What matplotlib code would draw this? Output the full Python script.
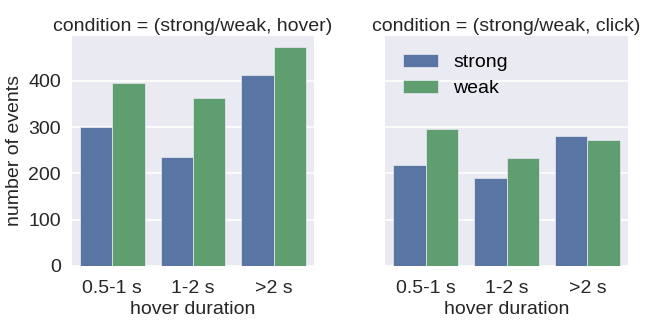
import numpy as np
import matplotlib
matplotlib.use("Agg")
import matplotlib.pyplot as plt

# --- DATA ---
durations = ["0.5-1 s", "1-2 s", ">2 s"]
hues = ["strong", "weak"]
hover_strong = [301, 235, 412]
hover_weak = [396, 362, 473]
click_strong = [218, 189, 280]
click_weak = [296, 234, 273]
titles = ["condition = (strong/weak, hover)", "condition = (strong/weak, click)"]
yticks = [0, 100, 200, 300, 400]

colors = ["#5975a4", "#5f9e6e"]
txt = "#262626"

plt.rcParams["font.family"] = ["Liberation Sans", "DejaVu Sans"]
plt.rcParams["font.size"] = 14

fig = plt.figure(figsize=(6.54, 3.25), dpi=100)
ax1 = fig.add_axes([0.110, 0.182, 0.370, 0.707])
ax2 = fig.add_axes([0.589, 0.182, 0.371, 0.707], sharey=ax1)

x = np.arange(len(durations))
w = 0.4
panels = [(ax1, hover_strong, hover_weak), (ax2, click_strong, click_weak)]
for i, (ax, s, wk) in enumerate(panels):
    ax.set_facecolor("#EAEAF2")
    for sp in ax.spines.values():
        sp.set_visible(False)
    ax.grid(axis="y", color="white", linewidth=1.2)
    ax.set_axisbelow(True)
    ax.bar(x - w / 2, s, w, color=colors[0], edgecolor="#dfe3ea", linewidth=0.6, label=hues[0])
    ax.bar(x + w / 2, wk, w, color=colors[1], edgecolor="#dfe3ea", linewidth=0.6, label=hues[1])
    ax.set_xticks(x)
    ax.set_xticklabels(durations)
    ax.set_xlim(-0.5, 2.5)
    ax.tick_params(axis="x", length=0, pad=10, labelsize=14, colors=txt)
    ax.tick_params(axis="y", length=0, pad=8, labelsize=14, colors=txt)
    ax.set_xlabel("hover duration", fontsize=14, color=txt, labelpad=3)
    ax.set_title(titles[i], fontsize=14, color=txt, pad=4)

ax1.set_ylim(0, 497)
ax1.set_yticks(yticks)
ax1.set_ylabel("number of events", fontsize=14, color=txt, labelpad=4)
ax2.tick_params(axis="y", labelleft=False)

leg = ax2.legend(loc="upper left", frameon=False, fontsize=14,
                 handlelength=1.8, handleheight=0.65, borderaxespad=0.5,
                 handletextpad=0.8, labelspacing=0.45)

fig.savefig("out.png", dpi=100)
